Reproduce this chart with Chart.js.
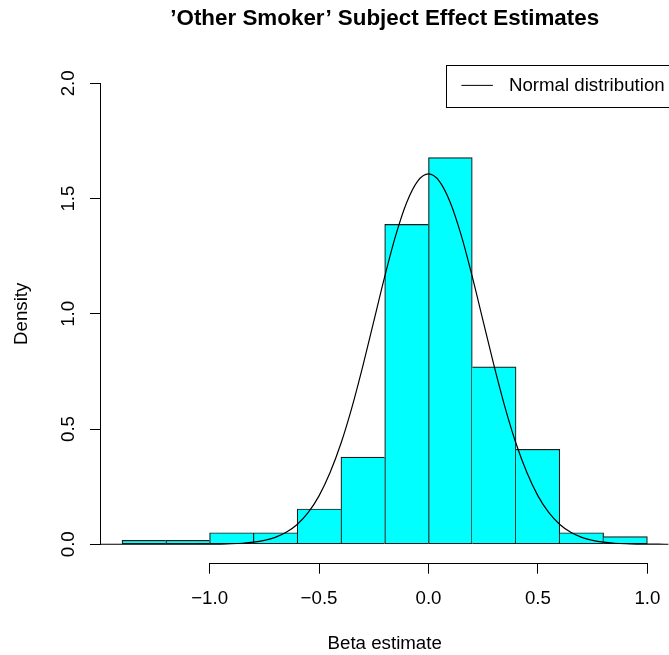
<!DOCTYPE html>
<html>
<head>
<meta charset="utf-8">
<script src="https://cdn.jsdelivr.net/npm/chart.js@4.4.1/dist/chart.umd.min.js"></script>
<style>
    html, body { margin: 0; padding: 0; background: #fff; }
    #wrap { width: 669px; height: 655px; }
</style>
</head>
<body>
<div id="wrap"><canvas id="histChart"></canvas></div>
<script>
/* ── Data ──────────────────────────────────────────────── */
const binStarts = [-1.4, -1.2, -1.0, -0.8, -0.6, -0.4, -0.2, 0.0, 0.2, 0.4, 0.6, 0.8];
const binWidth  = 0.2;
const densities = [0.017, 0.017, 0.05, 0.05, 0.153, 0.378, 1.388, 1.678, 0.77, 0.412, 0.05, 0.033];

// normal curve, sampled every 0.05
const curveX = [-1.5, -1.45, -1.4, -1.35, -1.3, -1.25, -1.2, -1.15, -1.1, -1.05,
                -1.0, -0.95, -0.9, -0.85, -0.8, -0.75, -0.7, -0.65, -0.6, -0.55,
                -0.5, -0.45, -0.4, -0.35, -0.3, -0.25, -0.2, -0.15, -0.1, -0.05,
                 0.0,  0.05,  0.1,  0.15,  0.2,  0.25,  0.3,  0.35,  0.4,  0.45,
                 0.5,  0.55,  0.6,  0.65,  0.7,  0.75,  0.8,  0.85,  0.9,  0.95,
                 1.0,  1.05,  1.1];
const curveY = [0, 0, 0, 0, 0, 0, 0, 0, 0, 0.0002,
                0.0005, 0.001, 0.0022, 0.0045, 0.009, 0.017, 0.03, 0.052, 0.086, 0.137,
                0.21, 0.31, 0.437, 0.593, 0.773, 0.967, 1.161, 1.339, 1.482, 1.575,
                1.607, 1.575, 1.482, 1.339, 1.161, 0.967, 0.773, 0.593, 0.437, 0.31,
                0.21, 0.137, 0.086, 0.052, 0.03, 0.017, 0.009, 0.0045, 0.0022, 0.001,
                0.0005, 0.0002, 0];

const xTicks = [-1.0, -0.5, 0.0, 0.5, 1.0];
const yTicks = [0.0, 0.5, 1.0, 1.5, 2.0];

const titleText  = '\u2019Other Smoker\u2019 Subject Effect Estimates';
const xTitle     = 'Beta estimate';
const yTitle     = 'Density';
const curveLabel = 'Normal distribution';

/* ── Shared look ───────────────────────────────────────── */
const FONT  = '"Liberation Sans", Arial, Helvetica, sans-serif';
const FSIZE = 18.7;
Chart.defaults.font.family = FONT;
Chart.defaults.color = '#000';

const fmt = v => v.toFixed(1).replace('-', '\u2212');

/* ── R-style axes: line spans first..last tick, y labels rotated ── */
const rAxes = {
    id : 'rAxes',
    afterDraw(chart) {
        const { ctx, chartArea: a, scales: { x, y } } = chart;
        ctx.save();
        ctx.strokeStyle = '#000';
        ctx.lineWidth   = 1;

        const bx = Math.round(a.bottom) + 0.5;
        ctx.beginPath();
        ctx.moveTo(x.getPixelForValue(xTicks[0]), bx);
        ctx.lineTo(x.getPixelForValue(xTicks[xTicks.length - 1]), bx);
        ctx.stroke();

        const ly = Math.round(a.left) - 0.5;
        ctx.beginPath();
        ctx.moveTo(ly, y.getPixelForValue(yTicks[0]));
        ctx.lineTo(ly, y.getPixelForValue(yTicks[yTicks.length - 1]));
        ctx.stroke();

        ctx.fillStyle    = '#000';
        ctx.font         = FSIZE + 'px ' + FONT;
        ctx.textAlign    = 'center';
        ctx.textBaseline = 'alphabetic';
        yTicks.forEach(v => {
            ctx.save();
            ctx.translate(a.left - 27, y.getPixelForValue(v));
            ctx.rotate(-Math.PI / 2);
            ctx.fillText(fmt(v), 0, 0);
            ctx.restore();
        });
        ctx.restore();
    },
};

/* ── Boxed legend in the top-right corner ──────────────── */
const boxLegend = {
    id : 'boxLegend',
    afterDraw(chart) {
        const { ctx, chartArea: a } = chart;
        const left = a.right - 222;
        const top  = a.top;
        const midY = top + 20.5;
        ctx.save();
        ctx.strokeStyle = '#000';
        ctx.lineWidth   = 1;
        ctx.strokeRect(Math.round(left) + 0.5, Math.round(top) + 0.5, 240, 42);

        ctx.beginPath();
        ctx.moveTo(left + 15, midY);
        ctx.lineTo(left + 46.5, midY);
        ctx.stroke();

        ctx.fillStyle    = '#000';
        ctx.font         = FSIZE + 'px ' + FONT;
        ctx.textAlign    = 'left';
        ctx.textBaseline = 'middle';
        ctx.fillText(chart.data.datasets[1].label, left + 62.5, midY);
        ctx.restore();
    },
};

/* ── Chart ─────────────────────────────────────────────── */
new Chart(document.getElementById('histChart'), {
    type : 'bar',
    data : {
        datasets : [
            {
                label           : 'Histogram',
                data            : binStarts.map((s, i) => ({ x: s + binWidth / 2, y: densities[i] })),
                backgroundColor : '#00FFFF',
                borderColor     : '#1a1a1a',
                borderSkipped   : false,
                borderWidth     : c => {
                    const i = c.dataIndex, d = densities;
                    return {
                        top    : 1.2,
                        bottom : 1.2,
                        left   : (i === 0 || d[i - 1] <= d[i]) ? 1.2 : 0,
                        right  : (i === d.length - 1 || d[i + 1] < d[i]) ? 1.2 : 0,
                    };
                },
                barPercentage      : 1,
                categoryPercentage : 1,
                order              : 2,
            },
            {
                type        : 'line',
                label       : curveLabel,
                data        : curveX.map((x, i) => ({ x, y: curveY[i] })),
                borderColor : '#000',
                borderWidth : 1.2,
                pointRadius : 0,
                fill        : false,
                cubicInterpolationMode : 'monotone',
                order       : 1,
            },
        ],
    },
    options : {
        responsive          : true,
        maintainAspectRatio : false,
        animation           : false,
        events              : [],
        layout  : { padding: { right: 0.6 } },
        plugins : {
            legend  : { display: false },
            tooltip : { enabled: false },
            title   : {
                display  : true,
                text     : titleText,
                fullSize : false,
                color    : '#000',
                font     : { size: 22.4, weight: 'bold', lineHeight: 1.2 },
                padding  : { top: 5.3, bottom: 32.7 },
            },
        },
        scales : {
            x : {
                type   : 'linear',
                min    : -1.496,
                max    : 1.096,
                offset : false,
                border : { display: false },
                grid   : { offset: false, drawOnChartArea: false, drawTicks: true, tickLength: 11, color: '#000' },
                ticks  : { font: { size: FSIZE }, padding: 14, maxRotation: 0, callback: v => fmt(v) },
                title  : { display: true, text: xTitle, font: { size: FSIZE }, padding: { top: 0, bottom: 0 } },
                afterBuildTicks : s => { s.ticks = xTicks.map(v => ({ value: v })); },
                afterFit        : s => { s.height = 92.3; s.paddingLeft = 0; s.paddingRight = 0; },
            },
            y : {
                min    : -0.08,
                max    : 2.08,
                border : { display: false },
                grid   : { offset: false, drawOnChartArea: false, drawTicks: true, tickLength: 11, color: '#000' },
                ticks  : { display: false },
                title  : { display: true, text: yTitle, font: { size: FSIZE }, padding: { top: 10.3, bottom: 0 } },
                afterBuildTicks : s => { s.ticks = yTicks.map(v => ({ value: v })); },
                afterFit        : s => { s.width = 101; s.paddingTop = 0; s.paddingBottom = 0; },
            },
        },
    },
    plugins : [rAxes, boxLegend],
});
</script>
</body>
</html>
